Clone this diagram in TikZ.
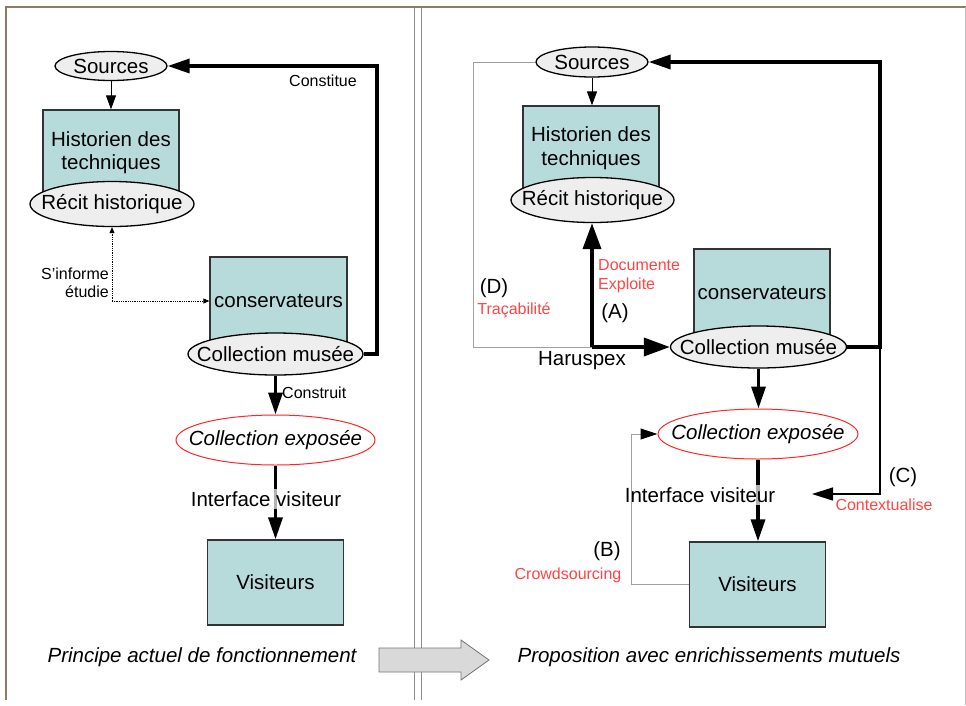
\documentclass[tikz,border=0pt]{standalone}
\usepackage{fontspec}
\setmainfont{Liberation Sans}
\usetikzlibrary{arrows.meta,shapes.geometric}
\definecolor{boxfill}{HTML}{B7DBDB}
\definecolor{ellfill}{HTML}{EEEEEE}
\definecolor{lblred}{HTML}{FF4444}
\definecolor{framebrown}{HTML}{8C7B65}
\definecolor{linegray}{HTML}{A0A0A0}
\newcommand\bigtxt{\fontsize{20.5}{23.5}\selectfont}
\newcommand\smalltxt{\fontsize{16}{18.5}\selectfont}
\newcommand\zw[1]{\makebox[0pt]{#1}}
\begin{document}
\begin{tikzpicture}[x=1pt,y=-1pt,
  box/.style={draw=black!80,line width=1.3pt,fill=boxfill,inner sep=0pt,align=center,font=\bigtxt},
  ell/.style={ellipse,draw=black,line width=1.3pt,fill=ellfill,inner sep=0pt,font=\bigtxt},
  redell/.style={ellipse,draw=red!85,line width=1pt,fill=white,inner sep=0pt,font=\bigtxt\itshape},
  lbl/.style={font=\bigtxt,inner sep=0pt},
  slbl/.style={font=\smalltxt,inner sep=0pt},
  rlbl/.style={font=\smalltxt,text=lblred,inner sep=0pt},
  thinarrow/.style={line width=1pt,-{Triangle[length=14pt,width=10pt]}},
  fatline/.style={line width=3.4pt},
  fatarrow/.style={line width=3.4pt,-{Triangle[length=22pt,width=14pt]}},
  hugearrow/.style={line width=3.6pt,-{Triangle[length=26pt,width=18pt]}},
  dotarrow/.style={line width=0.8pt,densely dotted,-{Triangle[length=6pt,width=5pt]}},
  grayline/.style={line width=1pt,draw=linegray},
  ifacelbl/.style={font=\bigtxt,fill=white,fill opacity=0.7,text opacity=1,inner sep=2pt}
]
\useasboundingbox (0,0) rectangle (966,705);
% frame
\draw[framebrown,line width=2.5pt] (6,700) -- (6,7) -- (966,7);
\draw[black!25,line width=1pt] (965,7) -- (965,705);
% divider
\draw[black!45,line width=0.9pt] (414,8) -- (414,700);
\draw[black!45,line width=0.9pt] (421,8) -- (421,700);

% ---------- left panel ----------
\node[box,minimum width=136pt,minimum height=85pt] (histL) at (111,152.5) {Historien des\\techniques};
\node[ell,minimum width=112pt,minimum height=29pt] (srcL) at (111,66) {\zw{Sources}};
\node[ell,minimum width=164pt,minimum height=45pt] (recL) at (112,204) {\zw{Récit historique}};
\node[box,minimum width=137pt,minimum height=88pt] (consL) at (278.5,301) {conservateurs};
\node[ell,minimum width=175pt,minimum height=42pt] (collL) at (275.5,354) {\zw{Collection musée}};
\node[redell,minimum width=199pt,minimum height=50pt] (expoL) at (275.5,440) {\zw{Collection exposée}};
\node[box,minimum width=136pt,minimum height=85pt] (visL) at (275.5,582.5) {Visiteurs};

\draw[thinarrow] (srcL.south) -- (srcL.south |- histL.north);
\coordinate (cL1) at (377,354);
\coordinate (cL2) at (377,66);
\draw[fatline,-{Triangle[length=22pt,width=14pt]}] (collL.east) -- (cL1) -- (cL2) -- (srcL.east);
\node[slbl] (constL) at (323,81) {Constitue};
\coordinate (dL) at (112,301);
\draw[dotarrow] (dL) -- (dL |- recL.south);
\draw[dotarrow] (dL) -- (consL.west);
\node[slbl,anchor=east,align=right] (infL) at (109,283) {S'informe\\étudie};
\draw[fatarrow] (collL.south) -- (expoL.north);
\node[slbl,anchor=west] (buildL) at (282,393) {Construit};
\draw[fatarrow] (expoL.south) -- (visL.north);
\node[ifacelbl] (ifL) at (266,499) {Interface visiteur};
\node[lbl,font=\bigtxt\itshape] (capL) at (202,657) {Principe actuel de fonctionnement};

% big arrow
\draw[draw=black!55,fill=black!15,line width=0.8pt] (379,648) -- (461,648) -- (461,640) -- (489,660) -- (461,680) -- (461,672) -- (379,672) -- cycle;

% ---------- right panel ----------
\node[box,minimum width=136pt,minimum height=84pt] (histR) at (591,148) {Historien des\\techniques};
\node[ell,minimum width=112pt,minimum height=30pt] (srcR) at (592,62) {\zw{Sources}};
\node[ell,minimum width=163pt,minimum height=45pt] (recR) at (592.5,200) {\zw{Récit historique}};
\node[box,minimum width=136pt,minimum height=87pt] (consR) at (762,292.5) {conservateurs};
\node[ell,minimum width=176pt,minimum height=42pt] (collR) at (758.5,347) {\zw{Collection musée}};
\node[redell,minimum width=200pt,minimum height=50pt] (expoR) at (758,434) {\zw{Collection exposée}};
\node[box,minimum width=136pt,minimum height=85pt] (visR) at (757.5,584.5) {Visiteurs};

\draw[thinarrow] (srcR.south) -- (srcR.south |- histR.north);
% constitue loop
\coordinate (cR1) at (880,347);
\coordinate (cR2) at (880,62);
\draw[fatline,-{Triangle[length=22pt,width=14pt]}] (collR.east) -- (cR1) -- (cR2) -- (srcR.east);
% (C)
\coordinate (cR3) at (880,494);
\coordinate (cTip) at (812,494);
\draw[line width=1.4pt,-{Triangle[length=21pt,width=13pt]}] (cR1) -- (cR3) -- (cTip);
\node[lbl] (labC) at (903,477) {(C)};
\node[rlbl] (ctxR) at (884,505) {Contextualise};
% (D)
\coordinate (aCorner) at (592,347);
\coordinate (dR1) at (473,62);
\coordinate (dR2) at (473,347);
\draw[grayline] (srcR.west) -- (dR1) -- (dR2) -- (aCorner);
\node[lbl] (labD) at (494,288) {(D)};
\node[rlbl] (tracR) at (514,310) {Traçabilité};
% (A)
\draw[hugearrow] (aCorner) -- (aCorner |- recR.south);
\draw[hugearrow] (aCorner) -- (collR.west);
\node[lbl] (labA) at (615,313) {(A)};
\node[rlbl,anchor=west,align=left] (docR) at (598,276) {Documente\\Exploite};
\node[lbl] (harR) at (582,361) {Haruspex};
% down arrows
\draw[fatarrow] (collR.south) -- (collR.south |- expoR.north);
\draw[fatarrow] (expoR.south) -- (expoR.south |- visR.north);
\node[ifacelbl] (ifR) at (700,495) {Interface visiteur};
% (B)
\coordinate (bR1) at (631,584.5);
\coordinate (bR2) at (631,434);
\draw[grayline,-{Triangle[length=17pt,width=11pt,color=black]}] (visR.west) -- (bR1) -- (bR2) -- (expoR.west);
\node[lbl] (labB) at (607,551) {(B)};
\node[rlbl] (crowdR) at (568,575) {Crowdsourcing};

\node[lbl,font=\bigtxt\itshape] (capR) at (709,657) {Proposition avec enrichissements mutuels};
\end{tikzpicture}
\end{document}
